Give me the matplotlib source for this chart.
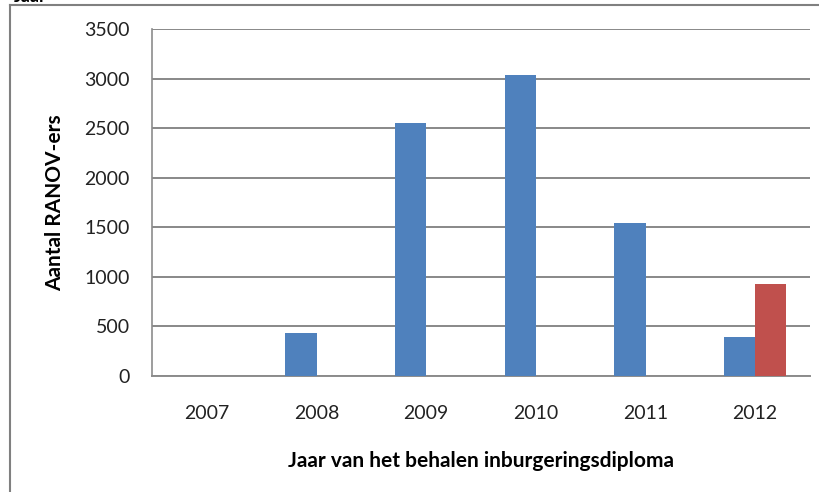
import numpy as np
import matplotlib.pyplot as plt
from matplotlib.lines import Line2D

plt.rcParams['font.family'] = ['Lato', 'DejaVu Sans']

# data
jaren = ['2007', '2008', '2009', '2010', '2011', '2012']
serie_blauw = [0, 430, 2550, 3035, 1540, 395]
serie_rood = [0, 0, 0, 0, 0, 925]

fig = plt.figure(figsize=(8.2, 4.92), dpi=100)
ax = fig.add_axes([0.1854, 0.2358, 0.8024, 0.7052])

x = np.arange(len(jaren))
w = 0.283
ax.bar(x - w / 2, serie_blauw, w, color='#4F81BD', zorder=3)
ax.bar(x + w / 2, serie_rood, w, color='#C0504D', zorder=3)

ax.set_xlim(-0.5, len(jaren) - 0.5)
ax.set_ylim(0, 3500)
ax.set_yticks(np.arange(0, 3501, 500))
ax.set_xticks(x)
ax.set_xticklabels(jaren)
ax.tick_params(axis='both', length=0, labelsize=14, colors='#222222')
ax.tick_params(axis='y', pad=16)
ax.tick_params(axis='x', pad=21)
ax.yaxis.grid(True, color='#888888', linewidth=1.4, zorder=0)

for side in ['top', 'right']:
    ax.spines[side].set_visible(False)
ax.spines['left'].set_color('#8c8c8c')
ax.spines['bottom'].set_color('#8c8c8c')
ax.spines['left'].set_linewidth(1.2)
ax.spines['bottom'].set_linewidth(1.4)

ax.set_xlabel('Jaar van het behalen inburgeringsdiploma', fontsize=15,
              fontweight='bold', labelpad=21)
ax.set_ylabel('Aantal RANOV-ers', fontsize=15, fontweight='bold', labelpad=14)

# frame of the surrounding chart box (only top and left visible)
fig.add_artist(Line2D([10 / 820, 1], [1 - 5 / 492, 1 - 5 / 492],
                      transform=fig.transFigure, color='#808080', linewidth=1.5))
fig.add_artist(Line2D([10 / 820, 10 / 820], [0, 1 - 5 / 492],
                      transform=fig.transFigure, color='#808080', linewidth=1.5))
fig.text(14 / 820, 1 + 3 / 492, 'Jaar', fontsize=13, fontweight='bold',
         va='center', ha='left')

fig.savefig('out.png', dpi=100)
